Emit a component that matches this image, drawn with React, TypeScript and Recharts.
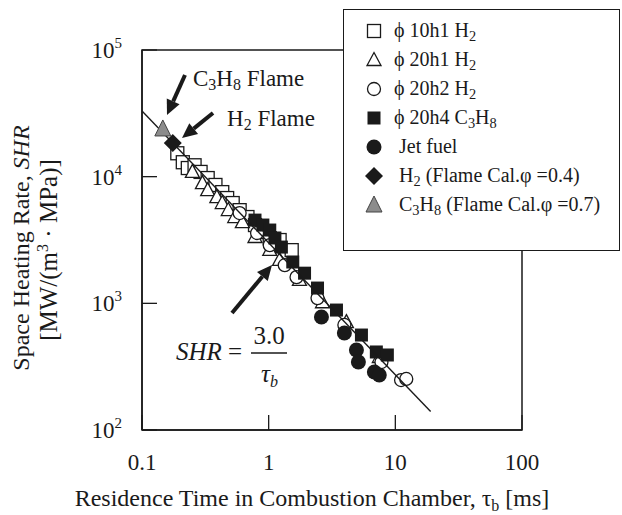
import React from "react";
import { Legend, ReferenceArea, Scatter, ScatterChart, XAxis, YAxis } from "recharts";

const FONT = '"Liberation Serif", "Times New Roman", serif';
const INK = "#1a1a1a";

// residence time tau_b [ms] vs space heating rate SHR [MW/(m3 MPa)]
const phi10h1Tau = [0.19, 0.21, 0.23, 0.26, 0.29, 0.33, 0.38, 0.43, 0.47, 0.52, 0.59, 0.68, 0.78, 0.88, 1.02, 1.22, 1.52];
const phi10h1Shr = [15300, 13000, 11700, 12300, 10900, 9750, 8600, 7550, 6780, 6190, 5440, 4800, 4150, 3650, 3270, 3160, 2630];

const phi20h1Tau = [0.25, 0.3, 0.33, 0.39, 0.43, 0.48, 0.54, 0.62, 0.78, 1.02, 1.22, 1.75, 2.66, 4.11, 7.48];
const phi20h1Shr = [10900, 8900, 7830, 6900, 6190, 5450, 4800, 4380, 3340, 2640, 2200, 1530, 1020, 711, 377];

const phi20h2Tau = [0.59, 0.81, 1.02, 1.34, 1.66, 2.43, 3.96, 7.77, 11.1, 12.2];
const phi20h2Shr = [5160, 3590, 2880, 2000, 1610, 1100, 675, 344, 248, 253];

const phi20h4Tau = [0.78, 0.9, 1.02, 1.12, 1.26, 1.55, 1.92, 2.43, 3.43, 5.4, 7.08, 8.65];
const phi20h4Shr = [4540, 4150, 3790, 3280, 2780, 2120, 1730, 1320, 885, 562, 413, 391];

const jetTau = [2.61, 3.96, 4.93, 5.11, 6.83, 7.47];
const jetShr = [780, 583, 428, 344, 287, 272];

const h2FlameTau = [0.175];
const h2FlameShr = [18400];

const c3h8FlameTau = [0.146];
const c3h8FlameShr = [23800];

// SHR = 3.0 / tau_b
const fitTau = [0.1, 19];
const fitShr = [33000, 140];

const xTicks = [0.1, 1, 10, 100];
const yTicks = [100, 1000, 10000, 100000];

const zip = (xs: number[], ys: number[]) => xs.map((x, i) => ({ x, y: ys[i] }));

const openSquare = (p: any) => (
  <rect x={p.cx - 6.5} y={p.cy - 6.5} width={13} height={13} fill="#fff" stroke={INK} strokeWidth={1.3} />
);
const openTriangle = (p: any) => (
  <polygon
    points={`${p.cx},${p.cy - 7.5} ${p.cx + 7},${p.cy + 5.5} ${p.cx - 7},${p.cy + 5.5}`}
    fill="#fff"
    stroke={INK}
    strokeWidth={1.3}
  />
);
const openCircle = (p: any) => <circle cx={p.cx} cy={p.cy} r={6.5} fill="#fff" stroke={INK} strokeWidth={1.3} />;
const filledSquare = (p: any) => <rect x={p.cx - 6.5} y={p.cy - 6.5} width={13} height={13} fill={INK} />;
const filledCircle = (p: any) => <circle cx={p.cx} cy={p.cy} r={7.5} fill={INK} />;
const diamond = (p: any) => (
  <polygon points={`${p.cx},${p.cy - 9} ${p.cx + 9},${p.cy} ${p.cx},${p.cy + 9} ${p.cx - 9},${p.cy}`} fill={INK} />
);
const grayTriangle = (p: any) => (
  <polygon
    points={`${p.cx},${p.cy - 9} ${p.cx + 8},${p.cy + 7} ${p.cx - 8},${p.cy + 7}`}
    fill="#8c8c8c"
    stroke="#444"
    strokeWidth={1}
  />
);
const noDot = () => <g />;

const XTick = (props: any) => {
  const { x, y, payload } = props;
  return (
    <g>
      <line x1={x} y1={y} x2={x} y2={y - 15} stroke={INK} strokeWidth={1.3} />
      <text x={x} y={y + 40} textAnchor="middle" fontSize={23} fontFamily={FONT} fill={INK}>
        {payload.value}
      </text>
    </g>
  );
};

const YTick = (props: any) => {
  const { x, y, payload } = props;
  const exp = Math.round(Math.log10(payload.value));
  return (
    <g>
      <line x1={x} y1={y} x2={x + 15} y2={y} stroke={INK} strokeWidth={1.3} />
      <text x={x - 20} y={y + 8} textAnchor="end" fontSize={23} fontFamily={FONT} fill={INK}>
        10
        <tspan dy={-10} fontSize={15}>
          {exp}
        </tspan>
      </text>
    </g>
  );
};

const Sub = ({ children }: { children: React.ReactNode }) => (
  <span style={{ fontSize: "0.72em", position: "relative", top: "0.25em" }}>{children}</span>
);

const legendItems: { icon: string; label: React.ReactNode }[] = [
  { icon: "openSquare", label: <>ϕ 10h1 H<Sub>2</Sub></> },
  { icon: "openTriangle", label: <>ϕ 20h1 H<Sub>2</Sub></> },
  { icon: "openCircle", label: <>ϕ 20h2 H<Sub>2</Sub></> },
  { icon: "filledSquare", label: <>ϕ 20h4 C<Sub>3</Sub>H<Sub>8</Sub></> },
  { icon: "filledCircle", label: <>&nbsp;Jet fuel</> },
  { icon: "diamond", label: <>&nbsp;H<Sub>2</Sub> (Flame Cal.φ =0.4)</> },
  { icon: "grayTriangle", label: <>&nbsp;C<Sub>3</Sub>H<Sub>8</Sub> (Flame Cal.φ =0.7)</> },
];

const iconShapes: Record<string, (p: any) => React.ReactElement> = {
  openSquare,
  openTriangle,
  openCircle,
  filledSquare,
  filledCircle,
  diamond,
  grayTriangle,
};

const LegendBox = () => (
  <div
    style={{
      width: 277,
      height: 242,
      boxSizing: "border-box",
      background: "#fff",
      border: `1.5px solid ${INK}`,
      fontFamily: FONT,
      fontSize: 20,
      color: INK,
      paddingTop: 6,
    }}
  >
    {legendItems.map((it, i) => (
      <div key={i} style={{ display: "flex", alignItems: "center", height: 29 }}>
        <svg width={50} height={24} style={{ flex: "none" }}>
          {iconShapes[it.icon]({ cx: 30, cy: 12 })}
        </svg>
        <span style={{ whiteSpace: "nowrap" }}>{it.label}</span>
      </div>
    ))}
  </div>
);

const Arrow = ({ x1, y1, x2, y2 }: { x1: number; y1: number; x2: number; y2: number }) => {
  const a = Math.atan2(y2 - y1, x2 - x1);
  const len = 15;
  const w = 7;
  const bx = x2 - len * Math.cos(a);
  const by = y2 - len * Math.sin(a);
  const px = -Math.sin(a) * w;
  const py = Math.cos(a) * w;
  return (
    <g>
      <line x1={x1} y1={y1} x2={bx} y2={by} stroke={INK} strokeWidth={4} />
      <polygon points={`${x2},${y2} ${bx + px},${by + py} ${bx - px},${by - py}`} fill={INK} />
    </g>
  );
};

export default function App() {
  return (
    <div style={{ position: "relative", width: 622, height: 515, background: "#fff" }}>
      <style>{"body{margin:0;background:#fff}"}</style>
      <ScatterChart width={622} height={515} margin={{ top: 50, right: 100, bottom: 0, left: 0 }}>
        <XAxis
          type="number"
          dataKey="x"
          scale="log"
          domain={[0.1, 100]}
          ticks={xTicks}
          allowDataOverflow
          height={85}
          tickSize={0}
          tickMargin={0}
          axisLine={{ stroke: INK, strokeWidth: 1.5 }}
          tick={<XTick />}
        />
        <YAxis
          type="number"
          dataKey="y"
          scale="log"
          domain={[100, 100000]}
          ticks={yTicks}
          allowDataOverflow
          width={142}
          tickSize={0}
          tickMargin={0}
          axisLine={{ stroke: INK, strokeWidth: 1.5 }}
          tick={<YTick />}
        />
        <ReferenceArea x1={0.1} x2={100} y1={100} y2={100000} fill="none" stroke={INK} strokeWidth={1.5} />
        <Scatter data={zip(phi10h1Tau, phi10h1Shr)} shape={openSquare} isAnimationActive={false} />
        <Scatter data={zip(phi20h1Tau, phi20h1Shr)} shape={openTriangle} isAnimationActive={false} />
        <Scatter data={zip(phi20h2Tau, phi20h2Shr)} shape={openCircle} isAnimationActive={false} />
        <Scatter data={zip(phi20h4Tau, phi20h4Shr)} shape={filledSquare} isAnimationActive={false} />
        <Scatter data={zip(jetTau, jetShr)} shape={filledCircle} isAnimationActive={false} />
        <Scatter
          data={zip(fitTau, fitShr)}
          shape={noDot}
          line={{ stroke: INK, strokeWidth: 1.4 }}
          isAnimationActive={false}
        />
        <Scatter data={zip(h2FlameTau, h2FlameShr)} shape={diamond} isAnimationActive={false} />
        <Scatter data={zip(c3h8FlameTau, c3h8FlameShr)} shape={grayTriangle} isAnimationActive={false} />
        <Legend
          layout="vertical"
          align="center"
          verticalAlign="middle"
          content={<LegendBox />}
          wrapperStyle={{ position: "absolute", left: 343, top: 9, width: 277, height: 242 }}
        />
      </ScatterChart>
      <svg
        width={622}
        height={515}
        style={{ position: "absolute", left: 0, top: 0, pointerEvents: "none" }}
        fontFamily={FONT}
        fill={INK}
      >
        <Arrow x1={185} y1={75} x2={167} y2={115} />
        <Arrow x1={213} y1={113} x2={182} y2={138} />
        <Arrow x1={232} y1={313} x2={272} y2={265} />
        <text x={193} y={86} fontSize={23}>
          C<tspan fontSize={16} dy={4}>3</tspan>
          <tspan dy={-4}>H</tspan>
          <tspan fontSize={16} dy={4}>8</tspan>
          <tspan dy={-4}> Flame</tspan>
        </text>
        <text x={227} y={126} fontSize={23}>
          H<tspan fontSize={16} dy={4}>2</tspan>
          <tspan dy={-4}> Flame</tspan>
        </text>
        <text x={176} y={360} fontSize={25}>
          <tspan fontStyle="italic">SHR</tspan> =
        </text>
        <text x={269} y={344} fontSize={25} textAnchor="middle">
          3.0
        </text>
        <line x1={251} y1={353} x2={287} y2={353} stroke={INK} strokeWidth={1.4} />
        <text x={261} y={382} fontSize={25} fontStyle="italic">
          τ<tspan fontSize={16} dy={5}>b</tspan>
        </text>
        <text x={312} y={506} fontSize={24} textAnchor="middle">
          Residence Time in Combustion Chamber, τ<tspan fontSize={16} dy={5}>b</tspan>
          <tspan dy={-5}> [ms]</tspan>
        </text>
        <text transform="translate(29 248) rotate(-90)" fontSize={24} textAnchor="middle">
          Space Heating Rate, <tspan fontStyle="italic">SHR</tspan>
        </text>
        <text transform="translate(57 250) rotate(-90)" fontSize={25} textAnchor="middle">
          [MW/(m<tspan fontSize={16} dy={-9}>3</tspan>
          <tspan dy={9}> · MPa)]</tspan>
        </text>
      </svg>
    </div>
  );
}
